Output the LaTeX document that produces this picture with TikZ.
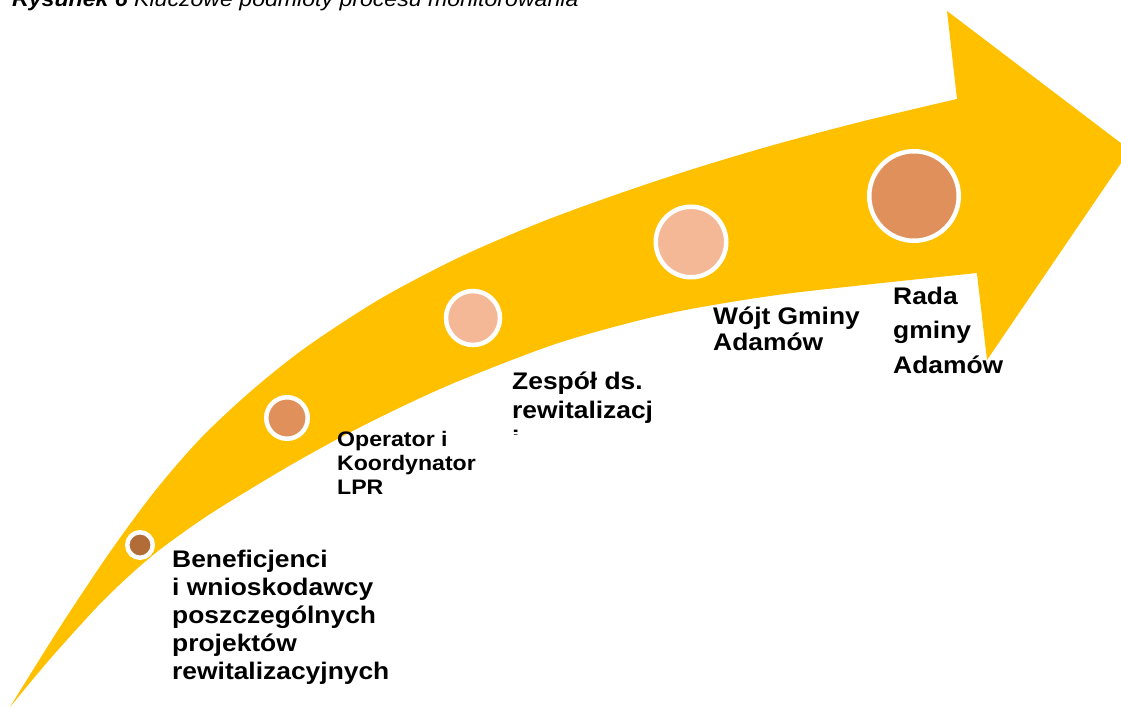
\documentclass[tikz,border=0pt]{standalone}
\usepackage{fontspec}
\setmainfont{Liberation Sans}
\newfontfamily\labfont[FakeStretch=1.1]{Liberation Sans}
\definecolor{arrowyellow}{HTML}{FFC000}
\definecolor{dotbrown}{HTML}{B26C38}
\definecolor{dotorange}{HTML}{E0905A}
\definecolor{dotpeach}{HTML}{F4B896}
\begin{document}
\begin{tikzpicture}[x=1pt,y=-1pt,
  dot/.style={circle, draw=white, line width=4.5pt, inner sep=0pt},
  lab/.style n args={2}{anchor=base west, align=left, inner sep=0pt,
    font=\labfont\bfseries\fontsize{#1}{#2}\selectfont}]
\useasboundingbox (0,0) rectangle (1121,708);
\begin{scope}
\clip (0,0) rectangle (1121,708);
% arrow body
\fill[arrowyellow] plot[smooth, tension=0.5] coordinates {(10,707) (60,627) (110,552) (155,491) (200,439) (250,392) (305,348) (380,299) (460,257) (540,222.6) (615,195) (690,170) (770,146) (860,122) (957,99)}
  -- (947,11) -- (1130,150) -- (987,360) -- (977,274)
  -- plot[smooth, tension=0.5] coordinates {(977,273) (873,284) (770,296) (666,314) (560,342.5) (460,380.5) (400,407.5) (345,435) (290,465.4) (233,499.6) (200,520.7) (160,549.5) (130,575) (97,607) (50,659) (10,707)} -- cycle;
% title
\node[anchor=base west, inner sep=0pt, font=\labfont\fontsize{21}{25}\selectfont\itshape] (title) at (12,7)
  {\bfseries Rysunek 6 \mdseries Kluczowe podmioty procesu monitorowania};
\end{scope}
% circles
\node[dot, fill=dotbrown, minimum size=25.5pt] (c1) at (140,545) {};
\node[dot, fill=dotorange, minimum size=41.5pt] (c2) at (287,418) {};
\node[dot, fill=dotpeach, minimum size=54pt] (c3) at (473,318) {};
\node[dot, fill=dotpeach, minimum size=70.5pt] (c4) at (691,242) {};
\node[dot, fill=dotorange, minimum size=89.5pt] (c5) at (914,196) {};
% labels (anchored at the baseline of their last line)
\node[lab={24}{28}] (l1) at (172,679) {Beneficjenci\\i wnioskodawcy\\poszczególnych\\projektów\\rewitalizacyjnych};
\node[lab={21}{24}] (l2) at (337,494) {Operator i\\Koordynator\\LPR};
\begin{scope}
\clip (500,360) rectangle (760,434);
\node[lab={24}{29}] (l3) at (512,447) {Zespół ds.\\rewitalizacj\\i};
\end{scope}
\node[lab={24}{26}] (l4) at (713,351) {Wójt Gminy\\Adamów};
\node[lab={24}{34.5}] (l5) at (893,373) {Rada\\gminy\\Adamów};
\end{tikzpicture}
\end{document}
